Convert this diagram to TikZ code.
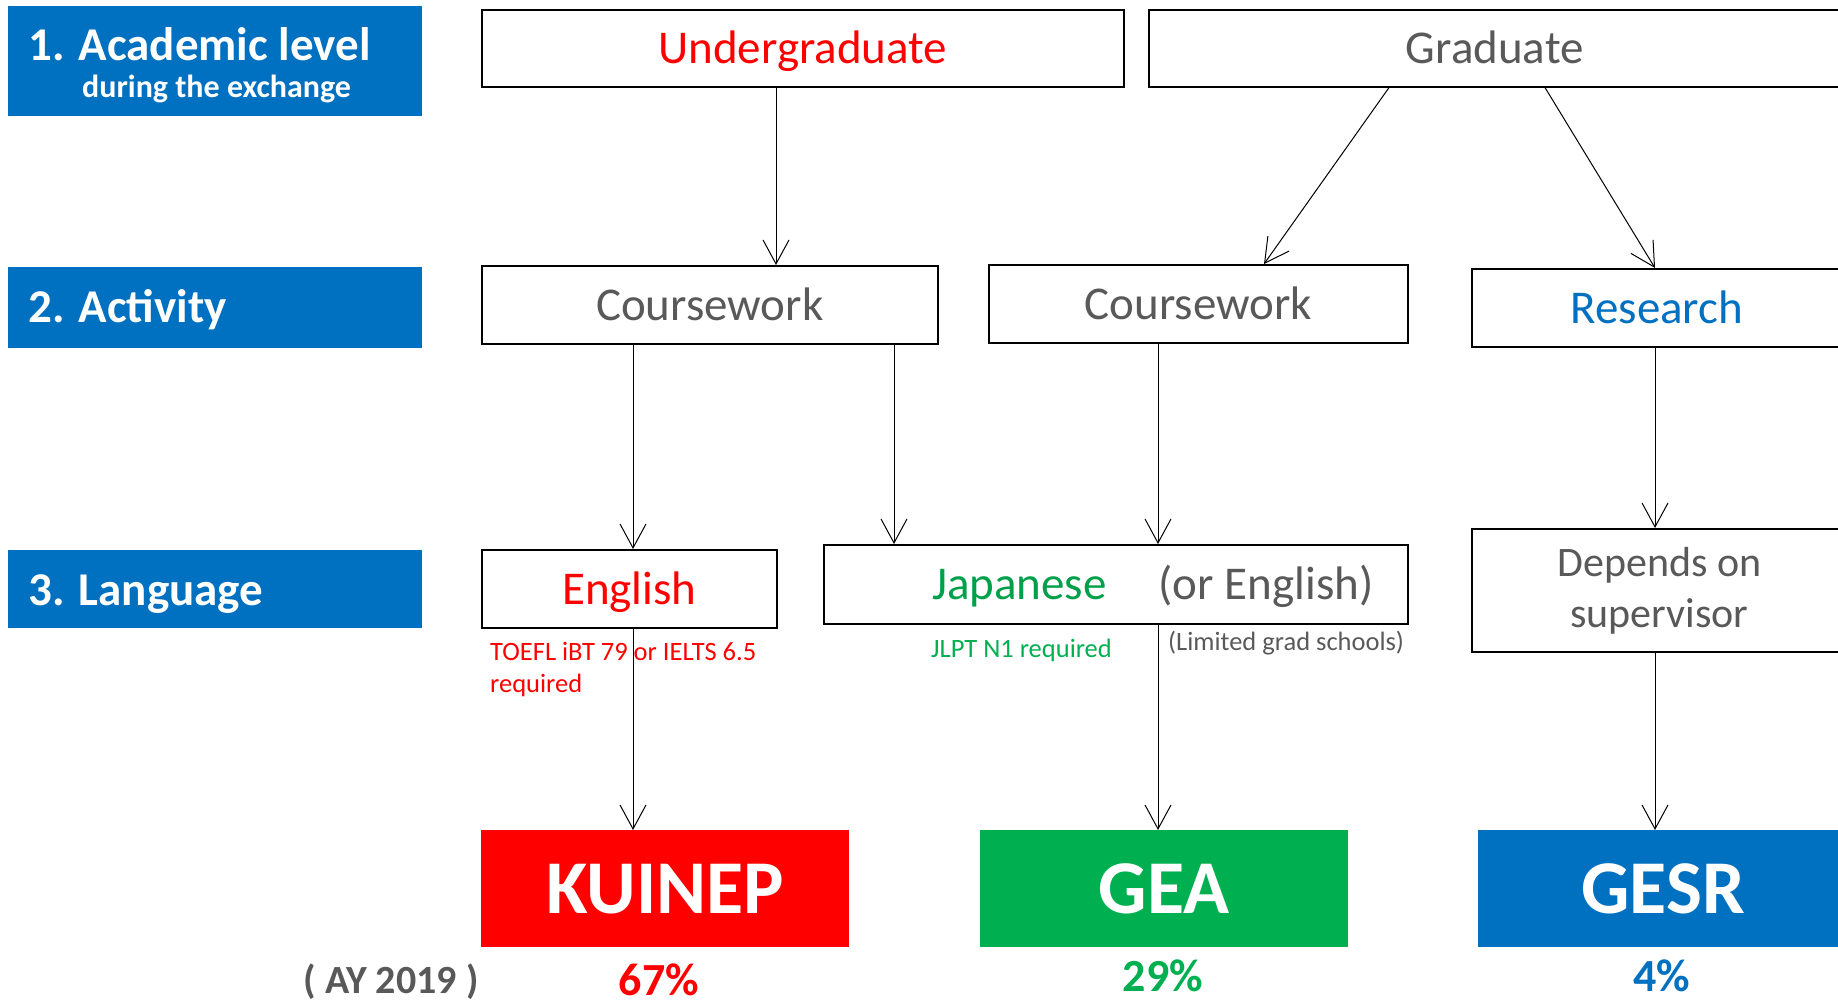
\documentclass[tikz,border=0pt]{standalone}
\usepackage{fontspec}
\setmainfont{Carlito}
\usetikzlibrary{arrows.meta}
\definecolor{kblue}{HTML}{0070C0}
\definecolor{kred}{HTML}{FF0000}
\definecolor{kgreen}{HTML}{00B050}
\definecolor{jgreen}{HTML}{00A04A}
\definecolor{kgray}{HTML}{595959}
\newcommand{\fsz}[1]{\fontsize{#1}{#1}\selectfont}
\begin{document}
\begin{tikzpicture}[x=1pt,y=-1pt,
  hdr/.style={fill=kblue, draw=none, anchor=north west, inner sep=0pt},
  hdrtxt/.style={anchor=base west, text=white, inner sep=0pt},
  box/.style={draw=black, line width=1.6pt, fill=white, anchor=north west, inner sep=0pt, text height=31pt, text depth=0pt, font=\fsz{47}},
  depbox/.style={draw=black, line width=1.6pt, fill=white, anchor=north west, inner sep=0pt, align=center, font=\fontsize{42}{51}\selectfont, text=kgray},
  prog/.style={anchor=north west, inner sep=0pt, text=white, font=\fsz{76}\bfseries, text height=49pt, text depth=0pt},
  arr/.style={line width=1pt, -{Straight Barb[length=24pt,width=26pt]}},
  note/.style={anchor=base west, inner sep=0pt, font=\fsz{26.5}},
  pct/.style={anchor=base, inner sep=0pt, font=\fsz{46}\bfseries}]
\useasboundingbox (0,0) rectangle (1838,1003);

% left headers
\node[hdr, minimum width=414pt, minimum height=110pt] (h1) at (8,6) {};
\node[hdrtxt, font=\fsz{47}\bfseries] (h1a) at (28,61) {1. Academic level};
\node[hdrtxt, font=\fsz{32}\bfseries] (h1b) at (82,98) {during the exchange};
\node[hdr, minimum width=414pt, minimum height=81pt] (h2) at (8,267) {};
\node[hdrtxt, font=\fsz{47}\bfseries] (h2a) at (28,322) {2. Activity};
\node[hdr, minimum width=414pt, minimum height=78pt] (h3) at (8,550) {};
\node[hdrtxt, font=\fsz{47}\bfseries] (h3a) at (28,605) {3. Language};

% level 1
\node[box, minimum width=642pt, minimum height=77pt, text=kred] (und) at (481,9) {Undergraduate};
\node[box, minimum width=692pt, minimum height=77pt, text=kgray] (grad) at (1148,9) {Graduate};

% level 2
\node[box, minimum width=456pt, minimum height=78pt, text=kgray] (cw1) at (481,265) {Coursework};
\node[box, minimum width=419pt, minimum height=78pt, text=kgray] (cw2) at (988,264) {Coursework};
\node[box, minimum width=370pt, minimum height=78pt, text=kblue] (res) at (1471,268) {Research};

% level 3
\node[box, minimum width=295pt, minimum height=78pt, text=kred] (eng) at (481,549) {English};
\node[box, minimum width=584pt, minimum height=79pt, text=kgray] (jap) at (823,544)
  {\hspace*{74pt}\textcolor{jgreen}{Japanese}\hspace{52pt}(or English)};
\node[depbox, minimum width=375pt, minimum height=123pt] (dep) at (1471,528) {Depends on\\supervisor};

% notes
\node[note, text=kred] (toefl) at (490,660) {TOEFL iBT 79 or IELTS 6.5};
\node[note, text=kred] (toefl2) at (490,692) {required};
\node[note, text=kgreen] (jlpt) at (931,657) {JLPT N1 required};
\node[note, text=kgray] (lim) at (1168,650) {(Limited grad schools)};

% programmes
\node[prog, fill=kred, minimum width=368pt, minimum height=117pt] (kui) at (481,830) {KUINEP};
\node[prog, fill=kgreen, minimum width=368pt, minimum height=117pt] (gea) at (980,830) {GEA};
\node[prog, fill=kblue, minimum width=370pt, minimum height=117pt] (gesr) at (1478,830) {GESR};

% percentages
\node[anchor=base, inner sep=0pt, font=\fsz{40}\bfseries, text=kgray] (ay) at (391,993) {( AY 2019 )};
\node[pct, text=kred] (p1) at (659,995) {67\%};
\node[pct, text=kgreen] (p2) at (1163,991) {29\%};
\node[pct, text=kblue] (p3) at (1662,991) {4\%};

% connector columns
\coordinate (c1) at (776,0);
\coordinate (c2) at (633,0);
\coordinate (c3) at (894,0);
\coordinate (c4) at (1158,0);
\coordinate (c5) at (1655,0);
\coordinate (g1) at (1389,0);
\coordinate (g2) at (1545,0);
\coordinate (t1) at (1264,0);

\draw[arr] (und.south -| c1) -- (cw1.north -| c1);
\draw[arr] (grad.south -| g1) -- (cw2.north -| t1);
\draw[arr] (grad.south -| g2) -- (res.north -| c5);
\draw[arr] (cw1.south -| c2) -- (eng.north -| c2);
\draw[arr] (cw1.south -| c3) -- (jap.north -| c3);
\draw[arr] (cw2.south -| c4) -- (jap.north -| c4);
\draw[arr] (res.south -| c5) -- (dep.north -| c5);
\draw[arr] (eng.south -| c2) -- (kui.north -| c2);
\draw[arr] (jap.south -| c4) -- (gea.north -| c4);
\draw[arr] (dep.south -| c5) -- (gesr.north -| c5);
\end{tikzpicture}
\end{document}
